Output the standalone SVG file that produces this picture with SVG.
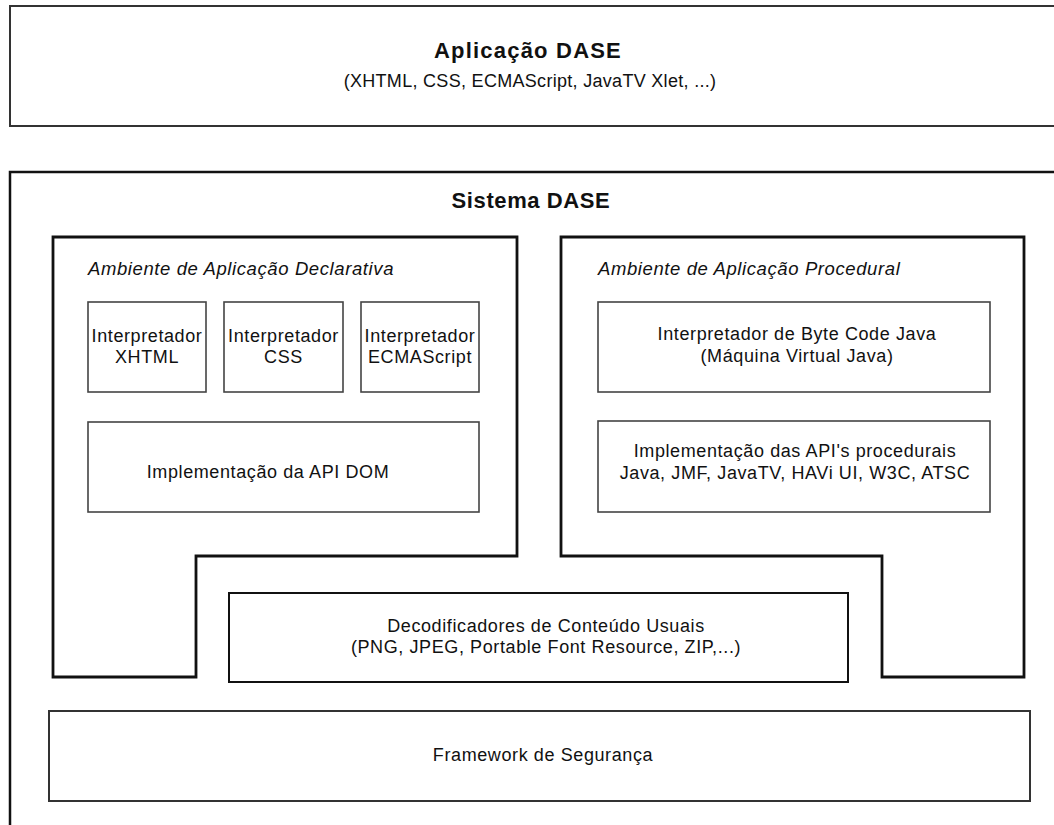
<svg xmlns="http://www.w3.org/2000/svg" width="1054" height="825" viewBox="0 0 1054 825">
<style>
text{font-family:"Liberation Sans",Arial,sans-serif;fill:#111;}
.t{font-size:18px;letter-spacing:0.6px;text-anchor:middle;}
.h{font-size:22px;font-weight:bold;letter-spacing:1px;text-anchor:middle;}
.i{font-size:18.5px;font-style:italic;letter-spacing:0.6px;}
.box{fill:#fff;stroke:#333;stroke-width:2;}
.thin{fill:#fff;stroke:#444;stroke-width:1.6;}
.env{fill:#fff;stroke:#111;stroke-width:2.8;}
.outer{fill:#fff;stroke:#111;stroke-width:2.5;}
</style>
<rect width="1054" height="825" fill="#fff"/>
<g id="aplicacao-dase">
<rect class="box" x="10" y="6" width="1060" height="120"/>
<text class="h" x="528" y="58" style="letter-spacing:1.2px">Aplicação DASE</text>
<text class="t" x="530" y="87" style="letter-spacing:0.3px">(XHTML, CSS, ECMAScript, JavaTV Xlet, ...)</text>
</g>
<g id="sistema-dase">
<rect class="outer" x="10" y="172" width="1060" height="700"/>
<text class="h" x="531" y="208" style="letter-spacing:0.6px">Sistema DASE</text>
</g>
<g id="ambiente-declarativa">
<path class="env" d="M53,237 H517 V556 H196 V677 H53 Z"/>
<text class="i" x="88" y="275">Ambiente de Aplicação Declarativa</text>
</g>
<g id="interp-xhtml">
<rect class="thin" x="88" y="302" width="118" height="90"/>
<text class="t" x="147" y="342">Interpretador</text>
<text class="t" x="147" y="363">XHTML</text>
</g>
<g id="interp-css">
<rect class="thin" x="224" y="302" width="119" height="90"/>
<text class="t" x="283.5" y="342">Interpretador</text>
<text class="t" x="283.5" y="363">CSS</text>
</g>
<g id="interp-ecmascript">
<rect class="thin" x="361" y="302" width="118" height="90"/>
<text class="t" x="420" y="342">Interpretador</text>
<text class="t" x="420" y="363">ECMAScript</text>
</g>
<g id="api-dom">
<rect class="thin" x="88" y="422" width="391" height="90"/>
<text class="t" x="268" y="478">Implementação da API DOM</text>
</g>
<g id="ambiente-procedural">
<path class="env" d="M561,237 H1024 V677 H882 V556 H561 Z"/>
<text class="i" x="598" y="275">Ambiente de Aplicação Procedural</text>
</g>
<g id="jvm">
<rect class="thin" x="598" y="302" width="392" height="90"/>
<text class="t" x="797" y="340">Interpretador de Byte Code Java</text>
<text class="t" x="797" y="362">(Máquina Virtual Java)</text>
</g>
<g id="api-procedurais">
<rect class="thin" x="598" y="421" width="392" height="91"/>
<text class="t" x="795" y="457">Implementação das API's procedurais</text>
<text class="t" x="795" y="479">Java, JMF, JavaTV, HAVi UI, W3C, ATSC</text>
</g>
<g id="decodificadores">
<rect class="box" x="229" y="593" width="619" height="89" style="stroke:#111"/>
<text class="t" x="546" y="632">Decodificadores de Conteúdo Usuais</text>
<text class="t" x="546" y="653">(PNG, JPEG, Portable Font Resource, ZIP,...)</text>
</g>
<g id="framework-seguranca">
<rect class="box" x="49" y="711" width="981" height="90"/>
<text class="t" x="543" y="761">Framework de Segurança</text>
</g>
<g id="connectors"/>
</svg>
